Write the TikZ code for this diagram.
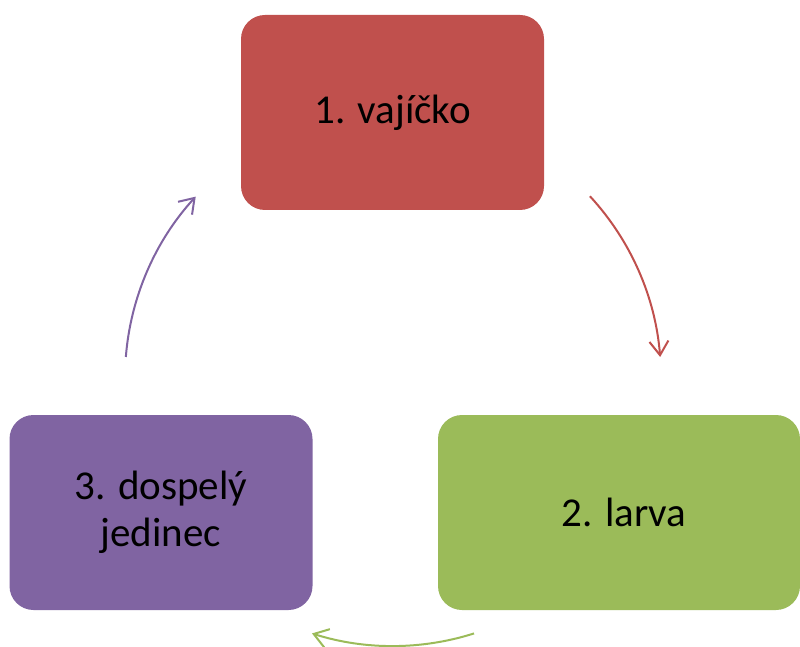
\documentclass[tikz,border=0pt]{standalone}
\usepackage{fontspec}
\setmainfont{Carlito}
\usetikzlibrary{arrows.meta}
\definecolor{cycleRed}{HTML}{C0504D}
\definecolor{cycleGreen}{HTML}{9BBB59}
\definecolor{cyclePurple}{HTML}{8064A2}

\begin{document}
\begin{tikzpicture}[
    x=1pt, y=1pt,
    stage/.style={fill=#1, rounded corners=24pt, align=center, inner sep=0pt,
                  minimum width=303pt, minimum height=195pt,
                  font=\fontsize{41}{47}\selectfont},
    cyc/.style={draw=#1, line width=2pt,
                -{Straight Barb[length=14pt, width=19pt, line width=2pt]}},
]
\useasboundingbox (0,0) rectangle (800,646);

% stages of the cycle
\node[stage=cycleRed] (vajicko) at (392.5,533.5) {1. vajíčko};
\node[stage=cycleGreen, minimum width=362pt] (larva) at (619,133.5) {\hspace{10pt}2. larva};
\node[stage=cyclePurple] (dospely) at (161,133.5) {3. dospelý\\jedinec};

% arcs on one circle round the middle
\coordinate (mid) at (393,268);
\path (mid) ++(42.7:268) coordinate (redA);
\path (mid) ++(-72.4:268) coordinate (greenA);
\path (mid) ++(175.5:268) coordinate (purpleA);
\draw[cyc=cycleRed] (redA) arc[start angle=42.7, end angle=4.5, radius=268];
\draw[cyc=cycleGreen] (greenA) arc[start angle=-72.4, end angle=-107.6, radius=268];
\draw[cyc=cyclePurple] (purpleA) arc[start angle=175.5, end angle=137.4, radius=268];
\end{tikzpicture}
\end{document}
